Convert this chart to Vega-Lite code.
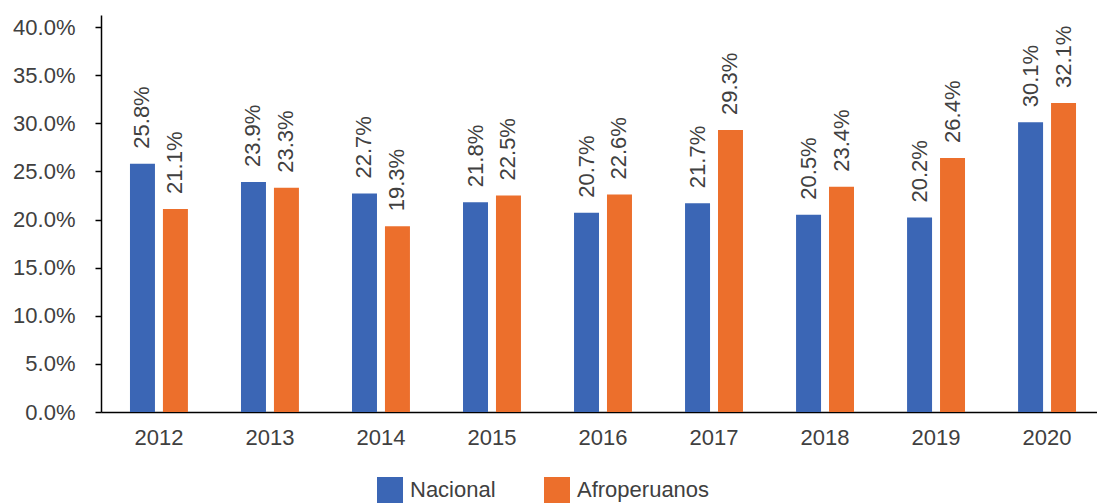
{
  "$schema": "https://vega.github.io/schema/vega-lite/v6.json",
  "width": 995,
  "height": 397,
  "autosize": {"type": "none"},
  "padding": {"left": 101, "top": 15, "right": 1, "bottom": 91},
  "config": {"view": {"stroke": null}, "font": "Liberation Sans"},
  "data": {
    "values": [
      {"year": "2012", "serie": "Nacional", "value": 0.258},
      {"year": "2012", "serie": "Afroperuanos", "value": 0.211},
      {"year": "2013", "serie": "Nacional", "value": 0.239},
      {"year": "2013", "serie": "Afroperuanos", "value": 0.233},
      {"year": "2014", "serie": "Nacional", "value": 0.227},
      {"year": "2014", "serie": "Afroperuanos", "value": 0.193},
      {"year": "2015", "serie": "Nacional", "value": 0.218},
      {"year": "2015", "serie": "Afroperuanos", "value": 0.225},
      {"year": "2016", "serie": "Nacional", "value": 0.207},
      {"year": "2016", "serie": "Afroperuanos", "value": 0.226},
      {"year": "2017", "serie": "Nacional", "value": 0.217},
      {"year": "2017", "serie": "Afroperuanos", "value": 0.293},
      {"year": "2018", "serie": "Nacional", "value": 0.205},
      {"year": "2018", "serie": "Afroperuanos", "value": 0.234},
      {"year": "2019", "serie": "Nacional", "value": 0.202},
      {"year": "2019", "serie": "Afroperuanos", "value": 0.264},
      {"year": "2020", "serie": "Nacional", "value": 0.301},
      {"year": "2020", "serie": "Afroperuanos", "value": 0.321}
    ]
  },
  "encoding": {
    "x": {
      "field": "year",
      "type": "nominal",
      "scale": {"paddingInner": 0.478, "paddingOuter": 0.261, "range": [0, 1004]},
      "axis": {
        "title": null,
        "labelAngle": 0,
        "domainColor": "#000000",
        "domainWidth": 1.5,
        "ticks": false,
        "labelFontSize": 22,
        "labelColor": "#404040",
        "labelPadding": 15
      }
    },
    "xOffset": {
      "field": "serie",
      "type": "nominal",
      "sort": ["Nacional", "Afroperuanos"],
      "scale": {"paddingInner": 0.242, "paddingOuter": 0}
    },
    "y": {
      "field": "value",
      "type": "quantitative",
      "scale": {"domain": [0, 0.4125], "nice": false},
      "axis": {
        "title": null,
        "format": ".1%",
        "values": [0, 0.05, 0.1, 0.15, 0.2, 0.25, 0.3, 0.35, 0.4],
        "grid": false,
        "domainColor": "#000000",
        "domainWidth": 1.5,
        "tickColor": "#000000",
        "tickWidth": 1.5,
        "tickSize": 6,
        "labelFontSize": 22,
        "labelColor": "#404040",
        "labelPadding": 20
      }
    }
  },
  "layer": [
    {
      "mark": {"type": "bar"},
      "encoding": {
        "color": {
          "field": "serie",
          "type": "nominal",
          "sort": ["Nacional", "Afroperuanos"],
          "scale": {"domain": ["Nacional", "Afroperuanos"], "range": ["#3B66B5", "#EC6F2C"]},
          "legend": {
            "title": null,
            "orient": "none",
            "direction": "horizontal",
            "legendX": 276,
            "legendY": 462,
            "symbolType": "square",
            "symbolSize": 676,
            "symbolStrokeWidth": 0,
            "labelFontSize": 22,
            "labelColor": "#404040",
            "labelOffset": 7,
            "columnPadding": 48,
            "padding": 0
          }
        }
      }
    },
    {
      "mark": {"type": "text", "angle": -90, "align": "left", "baseline": "middle", "dx": 15, "fontSize": 22, "color": "#404040"},
      "encoding": {
        "text": {"field": "value", "type": "quantitative", "format": ".1%"}
      }
    }
  ]
}
